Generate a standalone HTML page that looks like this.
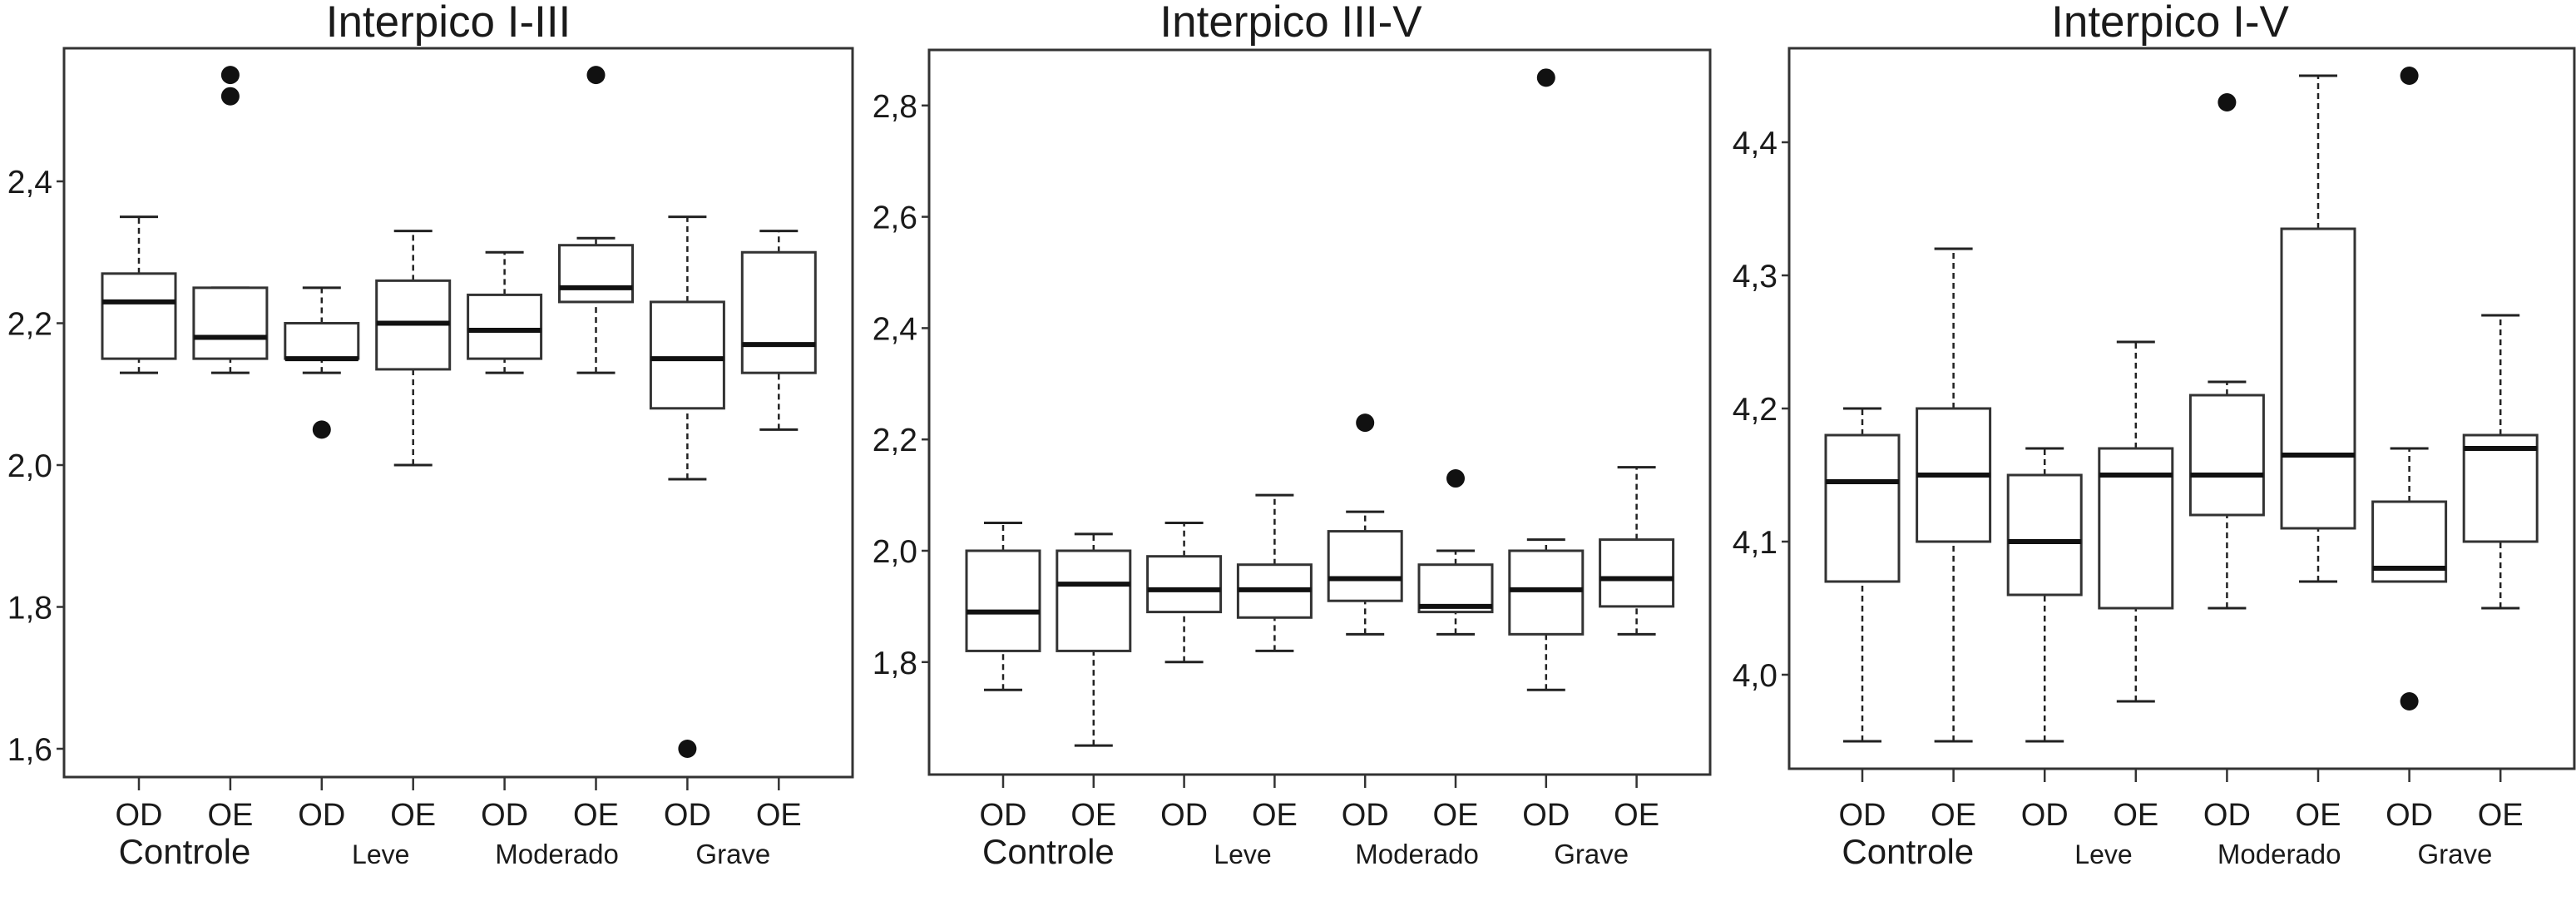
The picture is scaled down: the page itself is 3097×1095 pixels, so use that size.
<!DOCTYPE html>
<html><head><meta charset="utf-8"><style>
html,body{margin:0;padding:0;background:#fff;}
svg{display:block;font-family:"Liberation Sans",Arial,sans-serif;}
</style></head><body>
<svg id="chart" width="3097" height="1095" viewBox="0 0 3097 1095" xmlns="http://www.w3.org/2000/svg"></svg>
<script>
const categories = ["OD","OE","OD","OE","OD","OE","OD","OE"];
const groups = ["Controle","Leve","Moderado","Grave"];
const titles = ["Interpico I-III","Interpico III-V","Interpico I-V"];
const ticks1 = [1.6,1.8,2.0,2.2,2.4];
const ticks2 = [1.8,2.0,2.2,2.4,2.6,2.8];
const ticks3 = [4.0,4.1,4.2,4.3,4.4];
const tickLabels1 = ["1,6","1,8","2,0","2,2","2,4"];
const tickLabels2 = ["1,8","2,0","2,2","2,4","2,6","2,8"];
const tickLabels3 = ["4,0","4,1","4,2","4,3","4,4"];
// [whiskerLow, q1, median, q3, whiskerHigh]
const stats1 = [[2.13,2.15,2.23,2.27,2.35],[2.13,2.15,2.18,2.25,2.25],[2.13,2.15,2.15,2.20,2.25],[2.00,2.135,2.20,2.26,2.33],[2.13,2.15,2.19,2.24,2.30],[2.13,2.23,2.25,2.31,2.32],[1.98,2.08,2.15,2.23,2.35],[2.05,2.13,2.17,2.30,2.33]];
const stats2 = [[1.75,1.82,1.89,2.00,2.05],[1.65,1.82,1.94,2.00,2.03],[1.80,1.89,1.93,1.99,2.05],[1.82,1.88,1.93,1.975,2.10],[1.85,1.91,1.95,2.035,2.07],[1.85,1.89,1.90,1.975,2.00],[1.75,1.85,1.93,2.00,2.02],[1.85,1.90,1.95,2.02,2.15]];
const stats3 = [[3.95,4.07,4.145,4.18,4.20],[3.95,4.10,4.15,4.20,4.32],[3.95,4.06,4.10,4.15,4.17],[3.98,4.05,4.15,4.17,4.25],[4.05,4.12,4.15,4.21,4.22],[4.07,4.11,4.165,4.335,4.45],[4.07,4.07,4.08,4.13,4.17],[4.05,4.10,4.17,4.18,4.27]];
const outliers1 = [[],[2.55,2.52],[2.05],[],[],[2.55],[1.60],[]];
const outliers2 = [[],[],[],[],[2.23],[2.13],[2.85],[]];
const outliers3 = [[],[],[],[],[4.43],[],[4.45,3.98],[]];

const panels = [
 {stats:stats1,out:outliers1,ticks:ticks1,labels:tickLabels1,title:titles[0],left:77,right:1025,top:58,bottom:934,v0:2.0,y0:559,ppu:852.5,x0:167,dx:109.9,titleX:539},
 {stats:stats2,out:outliers2,ticks:ticks2,labels:tickLabels2,title:titles[1],left:1117,right:2056,top:60,bottom:931,v0:2.0,y0:662,ppu:669,x0:1206,dx:108.8,titleX:1552},
 {stats:stats3,out:outliers3,ticks:ticks3,labels:tickLabels3,title:titles[2],left:2151,right:3095,top:58,bottom:924,v0:4.0,y0:811,ppu:1600,x0:2239,dx:109.6,titleX:2609}
];
const svg = document.getElementById('chart');
const NS = "http://www.w3.org/2000/svg";
function mk(tag, attrs, parent){const e=document.createElementNS(NS,tag);for(const k in attrs)e.setAttribute(k,attrs[k]);(parent||svg).appendChild(e);return e;}
panels.forEach((p,pi)=>{
  const g = mk('g',{});
  
  
  const ys = v => p.y0 - (v - p.v0)*p.ppu;
  const xs = i => p.x0 + i*p.dx;
  const t = mk('text',{x:p.titleX,y:44,'text-anchor':'middle','font-size':53,fill:'#1a1a1a'},g);
  t.textContent = p.title;
  
  
  const fr = mk('rect',{x:p.left,y:p.top,width:p.right-p.left,height:p.bottom-p.top,fill:'none',stroke:'#333',"stroke-width":3},g);
  
  
  p.ticks.forEach((v,i)=>{
    const y = ys(v);
    mk('line',{x1:p.left-9,x2:p.left,y1:y,y2:y,stroke:'#333','stroke-width':2.5},g);
    const tl = mk('text',{x:p.left-14,y:y+14,'text-anchor':'end','font-size':39,fill:'#1a1a1a'},g);
    tl.textContent = p.labels[i];
    
    
  });
  categories.forEach((c,i)=>{
    const x = xs(i);
    mk('line',{x1:x,x2:x,y1:p.bottom,y2:p.bottom+16,stroke:'#333','stroke-width':2.5},g);
    const cl = mk('text',{x:x,y:992,'text-anchor':'middle','font-size':38,fill:'#1a1a1a'},g);
    cl.textContent = c;
    
    
    const s = p.stats[i];
    const bw = 44;
    const box = mk('g',{},g);
    
    
    mk('line',{x1:x,x2:x,y1:ys(s[0]),y2:ys(s[1]),stroke:'#222','stroke-width':2.5,'stroke-dasharray':'7,5'},box);
    mk('line',{x1:x,x2:x,y1:ys(s[3]),y2:ys(s[4]),stroke:'#222','stroke-width':2.5,'stroke-dasharray':'7,5'},box);
    mk('line',{x1:x-23,x2:x+23,y1:ys(s[0]),y2:ys(s[0]),stroke:'#222','stroke-width':3},box);
    mk('line',{x1:x-23,x2:x+23,y1:ys(s[4]),y2:ys(s[4]),stroke:'#222','stroke-width':3},box);
    mk('rect',{x:x-bw,y:ys(s[3]),width:bw*2,height:ys(s[1])-ys(s[3]),fill:'#fff',stroke:'#333','stroke-width':3},box);
    mk('line',{x1:x-bw,x2:x+bw,y1:ys(s[2]),y2:ys(s[2]),stroke:'#111','stroke-width':6},box);
    p.out[i].forEach(v=>{
      const o = mk('circle',{cx:x,cy:ys(v),r:11,fill:'#111'},g);
      
      
    });
  });
  const gOff = [[0.5,0,42],[2.5,16,32],[4.5,8,33],[6.5,0,33]];
  groups.forEach((gn,gi)=>{
    const x = p.x0 + gOff[gi][0]*p.dx + gOff[gi][1];
    const gl = mk('text',{x:x,y:1038,'text-anchor':'middle','font-size':gOff[gi][2],fill:'#1a1a1a'},g);
    gl.textContent = gn;
    
    
  });
});
</script>
</body></html>
